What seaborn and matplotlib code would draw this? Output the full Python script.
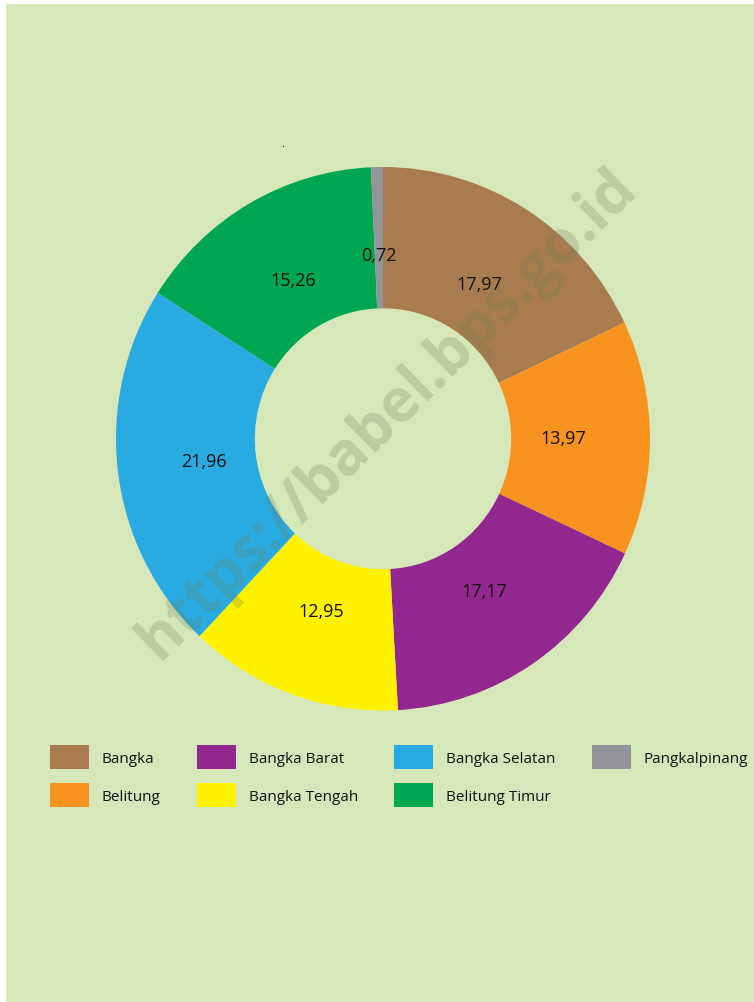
import matplotlib
matplotlib.use("Agg")
import matplotlib.pyplot as plt
from matplotlib.patches import Rectangle, Patch
import seaborn as sns

# ---- data ----
regions = ["Bangka", "Belitung", "Bangka Barat", "Bangka Tengah",
           "Bangka Selatan", "Belitung Timur", "Pangkalpinang"]
shares = [17.97, 13.97, 17.17, 12.95, 21.96, 15.26, 0.72]
colors = ["#a87c4f", "#f7931e", "#92278f", "#fff200",
          "#29abe2", "#00a651", "#939598"]
value_labels = [f"{v:.2f}".replace(".", ",") for v in shares]

sns.set_theme(style="white")
plt.rcParams["font.family"] = ["Open Sans", "DejaVu Sans"]

W, H = 754, 1003
fig = plt.figure(figsize=(W / 100, H / 100), dpi=100, facecolor="white")
bg = "#d6e8ba"
fig.patches.append(Rectangle((6 / W, 0), 1 - 6 / W, 1 - 5 / H,
                             transform=fig.transFigure, facecolor=bg,
                             edgecolor="none", zorder=-10))

cx, cy, Rx, Ry = 383, 439.75, 267, 271.75
ax = fig.add_axes([(cx - Rx) / W, (H - cy - Ry) / H, 2 * Rx / W, 2 * Ry / H])
ax.patch.set_visible(False)

it = iter(value_labels)
wedges, _, autotexts = ax.pie(
    shares, colors=colors, startangle=90, counterclock=False,
    radius=1, autopct=lambda p: next(it), pctdistance=0.675,
    wedgeprops=dict(width=0.52, edgecolor="none"),
    textprops=dict(fontsize=13, color="#111111"))
ax.set_aspect("auto")
ax.set_xlim(-1, 1)
ax.set_ylim(-1, 1)
ax.axis("off")

# small stray mark above chart
fig.text(283 / W, 1 - 150 / H, ".", fontsize=8, color="black",
         ha="center", va="bottom")

# watermark
fig.text(388 / W, 1 - 415 / H, "https://babel.bps.go.id", rotation=44.5,
         fontsize=43, fontweight="bold", color="#6b7d55", alpha=0.25,
         ha="center", va="center", rotation_mode="anchor")

handles = [Patch(facecolor=c, edgecolor="none") for c in colors]
fig.legend(handles, regions, ncol=4, loc="upper left",
           bbox_to_anchor=(50 / W, 1 - 746 / H), frameon=False,
           fontsize=11, handlelength=2.55, handleheight=2.04,
           handletextpad=0.85, labelspacing=0.92, columnspacing=2.37,
           borderpad=0, borderaxespad=0, labelcolor="#111111")

fig.savefig("out.png", dpi=100, facecolor="white")
